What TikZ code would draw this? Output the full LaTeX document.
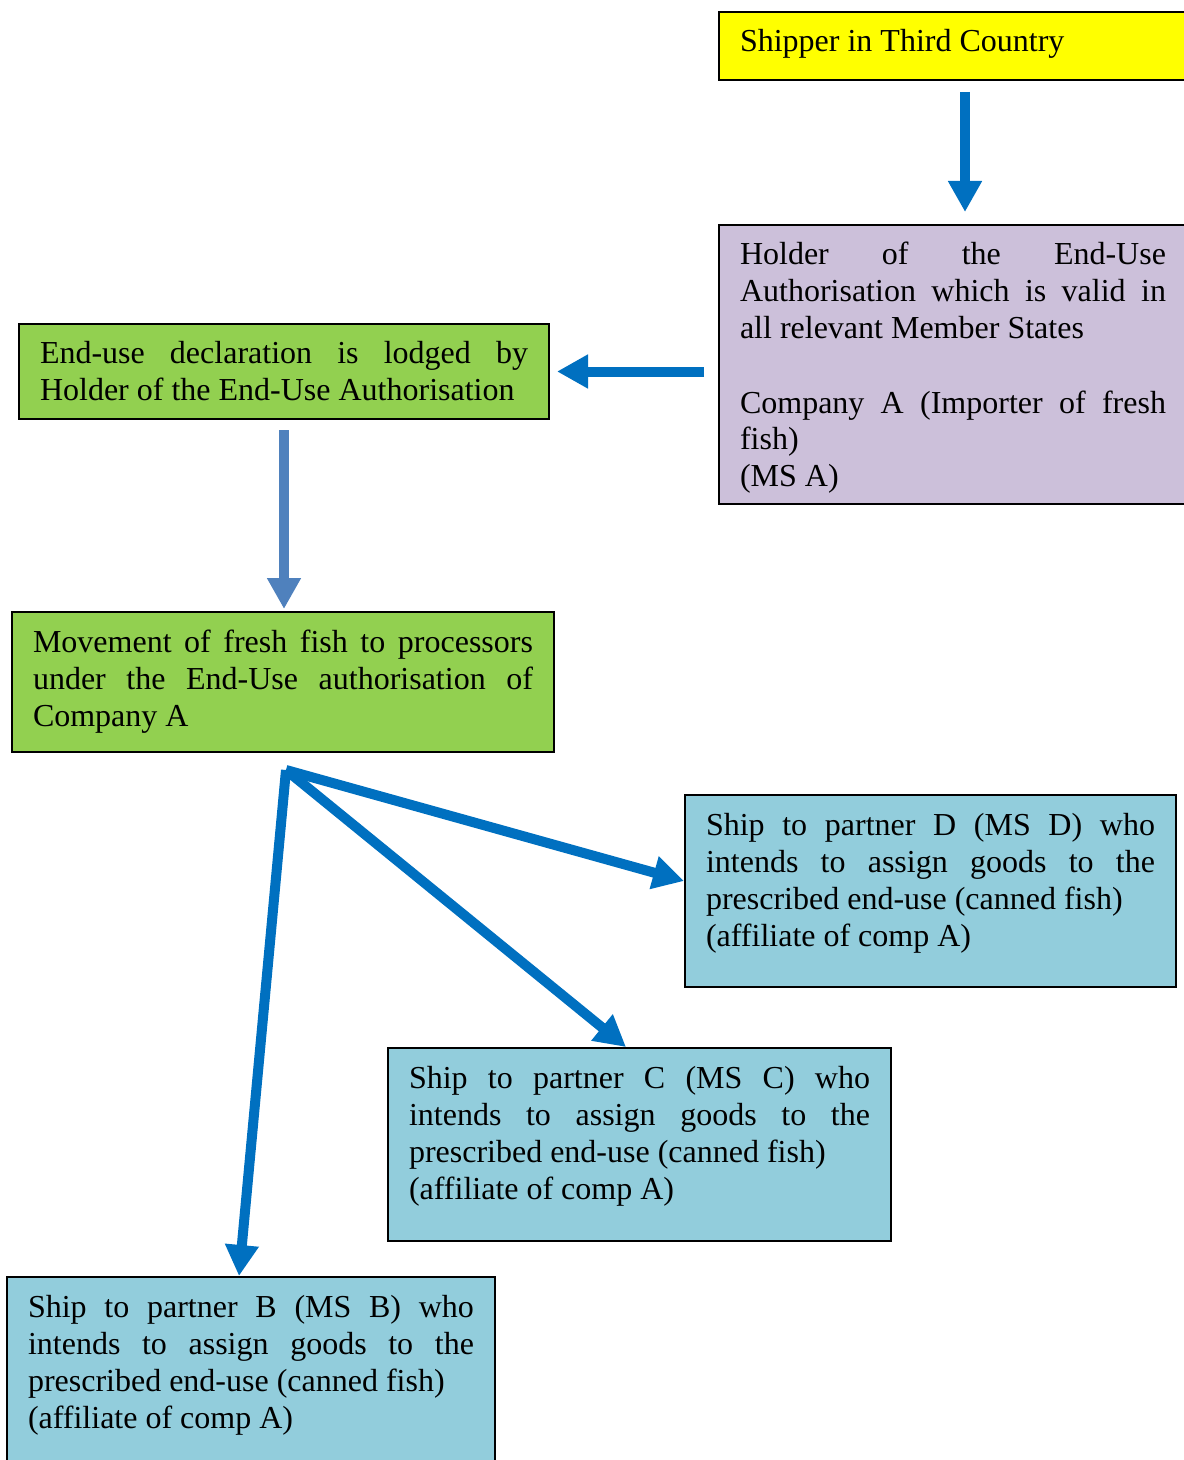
\documentclass[tikz,border=0pt]{standalone}
\usepackage{fontspec}
\setmainfont{Liberation Serif}
\usetikzlibrary{arrows.meta}
\definecolor{shipyellow}{HTML}{FFFF00}
\definecolor{holderlilac}{HTML}{CCC0DA}
\definecolor{declgreen}{HTML}{92D050}
\definecolor{partnerblue}{HTML}{92CDDC}
\definecolor{flowblue}{HTML}{0070C0}
\definecolor{flowsteel}{HTML}{4F81BD}

\begin{document}
\begin{tikzpicture}[
            x=0.5pt, y=-0.5pt,
            every node/.style={
                rectangle, draw, line width=1pt, anchor=north west, align=justify,
                inner xsep=10.5pt, inner ysep=0pt, text height=20pt,
                font=\fontsize{16pt}{18.5pt}\selectfont
            },
            flow/.style={
                draw=flowblue, line width=5pt, -{Triangle[length=15.5pt, width=16pt]}
            }
        ]
        \useasboundingbox (0,0) rectangle (1183,1460);

        \node[fill=shipyellow, text width=213pt, text depth=14pt] (ship) at (718,11)
            {Shipper in Third Country};
        \node[fill=holderlilac, text width=213pt, text depth=119.5pt] (hold) at (718,224)
            {Holder of the End-Use\linebreak Authorisation which is valid in\linebreak
             all relevant Member States\\[18.5pt]
             Company A (Importer of fresh\linebreak fish)\\(MS A)};
        \node[fill=declgreen, text width=244pt, text depth=27.5pt] (decl) at (18,323)
            {End-use declaration is lodged by\linebreak Holder of the End-Use Authorisation};
        \node[fill=declgreen, text width=250pt, text depth=50pt] (move) at (11,611)
            {Movement of fresh fish to processors\linebreak under the End-Use authorisation of\linebreak Company A};
        \node[fill=partnerblue, text width=224.5pt, text depth=76pt] (partD) at (684,794)
            {Ship to partner D (MS D) who\linebreak intends to assign goods to the\linebreak
             prescribed end-use (canned fish)\\(affiliate of comp A)};
        \node[fill=partnerblue, text width=230.5pt, text depth=76.5pt] (partC) at (387,1047)
            {Ship to partner C (MS C) who\linebreak intends to assign goods to the\linebreak
             prescribed end-use (canned fish)\\(affiliate of comp A)};
        \node[fill=partnerblue, text width=223pt, text depth=90pt] (partB) at (6,1276)
            {Ship to partner B (MS B) who\linebreak intends to assign goods to the\linebreak
             prescribed end-use (canned fish)\\(affiliate of comp A)};

        \draw[flow, shorten <=5.5pt, shorten >=6pt] ([xshift=6pt]ship.south) -- ([xshift=6pt]hold.north);
        \draw[flow, shorten <=7pt, shorten >=3.5pt] (decl.east -| hold.west) -- (decl.east);
        \draw[flow, draw=flowsteel, shorten <=5pt, shorten >=1pt] (decl.south) -- (decl.south |- move.north);

        \coordinate (fork) at ([xshift=1.5pt, yshift=-8.5pt]move.south);
        \draw[flow] (fork) -- ([yshift=5pt]partD.west);
        \draw[flow] (fork) -- ([xshift=-6.75pt]partC.north);
        \draw[flow] (fork) -- ([xshift=-6pt]partB.north);

    \end{tikzpicture}
\end{document}
